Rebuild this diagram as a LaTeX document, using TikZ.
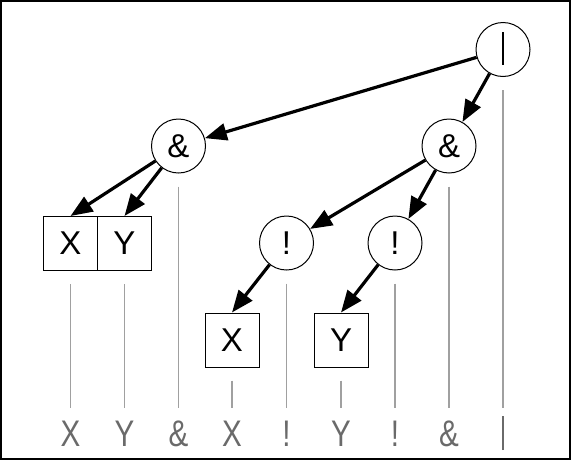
\documentclass[tikz,border=0pt]{standalone}
\usepackage{fontspec}
\setmainfont{Liberation Sans}
\usetikzlibrary{arrows.meta}
\definecolor{guidegray}{HTML}{A0A0A0}
\definecolor{labgray}{HTML}{6A6A6A}
\tikzset{
  opnode/.style={circle, draw=black, line width=1pt, minimum size=54pt, inner sep=0pt, font=\fontsize{33}{36}\selectfont},
  leafnode/.style={rectangle, draw=black, line width=1pt, minimum width=54pt, minimum height=54pt, inner sep=0pt, font=\fontsize{33}{36}\selectfont},
  edge/.style={line width=3.2pt, -{Triangle[length=22pt,width=17pt]}},
  guide/.style={draw=guidegray, line width=1.8pt},
  lab/.style={anchor=base, text=labgray, inner sep=0pt, font=\fontsize{37}{40}\selectfont}
}
\begin{document}
\begin{tikzpicture}[x=1pt, y=-1pt]
\useasboundingbox (0,0) rectangle (572,461);
\draw[line width=1.3pt] (1,1) rectangle (570,459);
% tree nodes
\node[opnode] (orN) at (503,49.5) {\raisebox{3pt}{\rule{2.6pt}{33pt}}};
\node[opnode] (andL) at (178.5,146) {\&};
\node[opnode] (andR) at (449,146) {\&};
\node[leafnode] (xA) at (70.5,243.5) {\raisebox{-2pt}{X}};
\node[leafnode] (yA) at (124.5,243.5) {\raisebox{-2pt}{Y}};
\node[opnode] (notL) at (286.5,243) {!};
\node[opnode] (notR) at (395,243) {!};
\node[leafnode] (xB) at (232,340) {\raisebox{-2pt}{X}};
\node[leafnode] (yB) at (341,340) {\raisebox{-2pt}{Y}};
% edges
\draw[edge] (orN) -- (andL);
\draw[edge] (orN) -- (andR);
\draw[edge] (andL) -- (xA.north);
\draw[edge] (andL) -- (yA.north);
\draw[edge] (andR) -- (notL);
\draw[edge] (andR) -- (notR);
\draw[edge] (notL) -- (xB.north);
\draw[edge] (notR) -- (yB.north);
% bottom labels
\node[lab] (l1) at (70.5,446) {\scalebox{0.8}[1]{X}};
\node[lab] (l2) at (124.5,446) {\scalebox{0.8}[1]{Y}};
\node[lab] (l3) at (178.5,446) {\scalebox{0.8}[1]{\&}};
\node[lab] (l4) at (232,446) {\scalebox{0.8}[1]{X}};
\node[lab] (l5) at (286.5,446) {\scalebox{0.8}[1]{!}};
\node[lab] (l6) at (341,446) {\scalebox{0.8}[1]{Y}};
\node[lab] (l7) at (395,446) {\scalebox{0.8}[1]{!}};
\node[lab] (l8) at (449,446) {\scalebox{0.8}[1]{\&}};
\node[lab] (l9) at (503,450) {\rule{2.6pt}{34pt}};
% guide lines
\coordinate (gend) at (0,408);
\foreach \n in {orN,andL,andR,xA,yA,notL,notR,xB,yB}{
  \coordinate (gs-\n) at ([yshift=-13pt]\n.south);
  \draw[guide] (gs-\n) -- (gs-\n |- gend);
}
\end{tikzpicture}
\end{document}
